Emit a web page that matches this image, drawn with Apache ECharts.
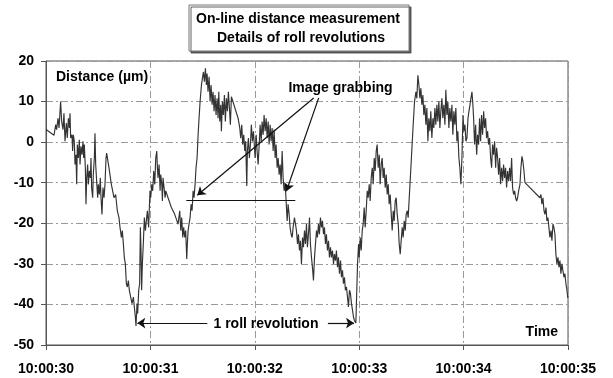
<!DOCTYPE html>
<html>
<head>
<meta charset="utf-8">
<script src="https://cdn.jsdelivr.net/npm/echarts@6/dist/echarts.min.js"></script>
<style>
  html, body { margin: 0; padding: 0; background: #fff; }
  #chart { width: 613px; height: 378px; }
</style>
</head>
<body>
<div id="chart"></div>
<script>
// X tick labels (one per second)
const tickLabels = ['10:00:30', '10:00:31', '10:00:32', '10:00:33', '10:00:34', '10:00:35'];

// time in ms after 10:00:30
const timeMs = [
  0,77,93,102,115,125,140,150,163,172, 182,195,204,214,224,230,236,249,255,262,
  271,278,287,294,300,310,319,326,335,345, 354,361,367,377,383,390,399,406,415,425,
  431,437,447,453,463,469,476,485,495,501, 511,520,527,536,546,556,565,575,581,603,
  626,651,667,683,699,709,722,731,741,750, 760,770,779,789,798,811,824,837,846,856,
  862,872,878,888,897,904,910,916,923,932, 942,952,961,971,983,996,
  1003,1013,1022,1032,1042,1051,1061,1067,1073,1083, 1093,1099,1109,1115,1121,1131,1141,1147,1169,1201,
  1233,1265,1281,1291,1300,1310,1319,1329,1338,1348, 1354,1361,1370,1380,1390,1399,1409,1418,1428,1437,
  1447,1457,1466,1476,1489,1498,1508,1517,1527,1536, 1543,1552,1562,1572,1581,1591,1600,1610,1619,1629,
  1639,1648,1655,1664,1674,1680,1690,1699,1709,1718, 1728,1738,1747,1757,1766,1776,1840,1856,1865,1875,
  1884,1894,1904,1913,1923,1929,1939,1948,1958,1967, 1977,1987,
  2003,2013,2022,2032,2042,2051,2061,2070,2080,2089, 2099,2109,2118,2128,2137,2147,2156,2166,2176,2185,
  2195,2204,2214,2224,2233,2243,2252,2262,2271,2281, 2291,2300,2310,2319,2329,2338,2348,2358,2367,2380,
  2399,2409,2418,2428,2437,2447,2457,2466,2476,2485, 2495,2504,2514,2524,2533,2543,2552,2562,2572,2581,
  2591,2600,2610,2619,2629,2639,2648,2658,2667,2677, 2686,2696,2706,2715,2725,2734,2744,2754,2763,2773,
  2782,2792,2801,2811,2821,2830,2840,2849,2859,2868, 2878,2888,2897,2907,2916,2926,2936,2945,2955,2968,
  2984,2994,3000,3010,3019,3029,3038,3048,3057,3067, 3077,3086,3096,3105,3115,3125,3134,3144,3153,3163,
  3172,3182,3192,3201,3211,3220,3230,3239,3249,3259, 3268,3278,3287,3297,3307,3316,3326,3335,3345,3354,
  3364,3374,3383,3393,3402,3412,3421,3431,3441,3450, 3460,3469,3495,3517,3530,3543,3552,3562,3572,3581,
  3591,3600,3610,3619,3629,3639,3648,3658,3667,3677, 3686,3696,3706,3715,3725,3734,3744,3753,3763,3773,
  3782,3792,3801,3811,3821,3830,3840,3849,3859,3868, 3878,3888,3897,3907,3916,3926,3936,3945,3955,3964,
  3974,3984,
  3994,4003,4013,4022,4032,4042,4051,4061,4070,4080, 4089,4096,4105,4115,4125,4134,4144,4153,4163,4172,
  4182,4192,4201,4211,4220,4230,4239,4249,4259,4268, 4278,4287,4297,4307,4316,4326,4335,4345,4354,4364,
  4374,4383,4393,4402,4412,4421,4431,4441,4450,4460, 4469,4479,4489,4498,4508,4517,4527,4540,4549,4559,
  4568,4578,4588,4731,4741,4750,4760,4770,4779,4789, 4798,4808,4817,4827,4837,4846,4856,4865,4875,4884,
  4894,4904,4913,4923,4932,4942,4951,4961,4970,4980, 4990,4998
];

// distance in micrometres
const distanceUm = [
  3.1,1.7,4.3,3.1,5.9,3.5,10.0,5.1,3.1,7.1, 0.2,4.7,1.0,5.9,3.5,7.1,1.0,1.8,-2.2,1.8,
  0.2,-5.5,-3.1,-10.4,-0.6,-3.9,0.6,-5.5,-1.0,-3.1, 0.2,-3.9,-0.6,-6.3,-15.3,-8.8,-5.5,-10.4,-7.1,-8.8,
  -3.9,-11.2,-13.7,-8.0,-3.9,2.2,-5.5,-9.6,-13.7,-10.4, -12.9,-8.8,-13.7,-17.8,-11.2,-13.7,-10.4,-3.9,-2.7,-6.3,
  -10.4,-13.7,-12.9,-16.9,-18.6,-21.0,-23.5,-21.8,-25.1,-28.4, -30.0,-34.9,-35.7,-34.1,-36.5,-38.2,-39.8,-38.2,-40.6,-43.1,
  -45.3,-39.8,-42.2,-36.5,-34.9,-21.0,-26.7,-36.5,-30.0,-25.1, -18.6,-21.8,-19.4,-16.9,-21.0,-12.0,
  -13.7,-10.4,-12.0,-7.1,-10.4,-3.9,-2.2,-6.3,-8.8,-5.5, -12.0,-8.0,-10.4,-14.5,-8.8,-11.2,-13.7,-12.0,-13.7,-16.1,
  -17.8,-20.2,-16.9,-21.8,-18.6,-23.5,-21.0,-23.5,-21.8,-28.8, -25.1,-21.8,-20.2,-18.6,-15.3,-16.9,-12.0,-13.7,-10.4,-6.3,
  -3.9,1.8,5.9,10.0,14.1,15.7,17.3,14.9,18.2,14.1, 16.9,12.4,16.1,10.0,14.1,9.2,12.4,7.6,11.6,6.7,
  10.8,5.9,12.4,5.1,9.2,2.7,10.0,6.7,11.6,5.1, 10.8,7.6,12.4,8.4,4.3,11.2,5.9,3.5,1.0,4.3,
  -0.6,1.8,-2.2,0.2,-10.8,-2.2,1.0,-3.9,-0.6,4.3, 0.2,2.7,
  -3.9,1.8,-2.2,-5.5,-0.6,4.3,0.2,5.1,1.8,6.7, 2.7,5.9,1.0,5.1,-0.6,4.3,0.2,3.5,-2.2,3.1,
  -3.9,-0.6,-6.3,-3.9,-8.0,-5.5,-10.4,-2.2,-8.8,-12.0, -10.4,-14.5,-19.4,-15.3,-17.8,-21.0,-22.7,-23.5,-21.0,-18.6,
  -21.8,-25.1,-22.7,-26.7,-24.3,-30.0,-23.5,-25.9,-21.8,-25.1, -20.2,-25.9,-22.7,-18.6,-25.1,-28.4,-30.8,-34.1,-28.4,-25.1,
  -21.8,-23.5,-20.2,-22.7,-18.6,-21.0,-19.4,-22.7,-21.0,-25.1, -22.7,-26.7,-24.3,-28.4,-25.9,-28.4,-26.7,-30.0,-27.6,-29.2,
  -26.7,-30.8,-28.4,-32.4,-29.2,-33.3,-31.6,-34.9,-33.3,-36.5, -35.7,-38.2,-40.6,-36.5,-37.3,-39.8,-41.4,-43.1,-44.0,-44.6,
  -30.0,-25.1,-28.4,-23.5,-26.7,-21.8,-20.2,-16.1,-21.0,-16.9, -12.0,-13.7,-10.4,-14.5,-8.8,-6.3,-10.4,-3.9,-7.1,-2.2,
  -0.6,-6.3,-3.1,-10.4,-5.5,-3.9,-8.8,-6.3,-11.2,-8.0, -12.9,-10.4,-15.3,-12.9,-17.8,-21.8,-16.9,-19.4,-14.5,-13.7,
  -17.8,-20.2,-25.1,-27.6,-24.3,-21.0,-23.5,-19.4,-21.8,-17.8, -16.9,-18.6,-6.3,4.3,10.0,12.4,10.8,16.5,14.1,10.8,
  13.3,9.2,11.6,6.7,9.2,4.3,8.4,0.2,5.9,2.7, 7.6,1.0,5.9,3.5,8.4,4.3,9.2,5.1,10.0,3.5,
  7.6,10.8,5.9,9.2,4.3,12.9,6.7,10.0,3.5,8.4, 5.1,9.2,1.8,7.6,4.3,8.4,0.2,2.7,-3.9,-6.3,
  -10.4,-3.9,
  6.7,2.7,4.3,0.2,1.0,5.9,7.6,9.2,10.8,12.4, 9.2,5.9,-0.6,4.3,-3.1,1.8,-0.6,5.9,0.2,6.7,
  1.8,7.6,3.5,5.9,1.0,2.7,-0.6,1.0,-3.9,-6.3, -0.6,-3.1,0.2,-6.3,-1.4,-3.9,-8.0,-3.9,-10.4,-6.3,
  -9.6,-5.5,-8.8,-6.3,-11.2,-7.1,-9.6,-6.3,-9.6,-3.9, -11.2,-12.9,-12.0,-13.7,-14.5,-13.7,-12.0,-10.4,-6.3,-3.5,
  -4.7,-7.1,-10.0,-13.7,-12.9,-15.3,-13.7,-16.9,-17.8,-16.1, -19.4,-18.6,-21.0,-23.5,-21.8,-24.3,-20.2,-21.0,-22.7,-27.6,
  -30.0,-28.4,-30.8,-29.2,-32.4,-30.0,-31.6,-33.3,-32.4,-34.9, -36.5,-38.4
];

// Annotation anchors (data coordinates: ms, µm)
const grabLineX = [1344, 2388];
const grabLineY = -14.2;
const grabArrow1 = [[2564, 10.9], [1449, -13.1]];
const grabArrow2 = [[2612, 10.9], [2302, -12.1]];
const grabText = [2821, 13.3];
const revY = -44.6;
const revArrowLeft = [[1545, revY], [875, revY]];
const revArrowRight = [[2700, revY], [2950, revY]];
const revText = [2107, -44.8];

const FONT = '"Liberation Sans", Arial, sans-serif';

const chart = echarts.init(document.getElementById('chart'), null, { renderer: 'canvas' });

const seriesData = timeMs.map((t, i) => [t, distanceUm[i]]);

const gridLine = { show: true, lineStyle: { color: '#9a9a9a', width: 1, type: [7, 3, 2, 3] } };

chart.setOption({
  animation: false,
  backgroundColor: '#fff',
  grid: { left: 46, right: 45, top: 61, bottom: 33, show: true, borderColor: '#555', borderWidth: 1, backgroundColor: 'transparent' },
  xAxis: {
    type: 'value', min: 0, max: 5000, interval: 1000,
    axisLine: { show: true, onZero: false, lineStyle: { color: '#555', width: 1 } },
    axisTick: { show: true, length: 5, lineStyle: { color: '#555' } },
    axisLabel: { margin: 17, color: '#000', fontWeight: 'bold', fontSize: 14, fontFamily: FONT,
      formatter: v => tickLabels[Math.round(v / 1000)] },
    splitLine: gridLine
  },
  yAxis: {
    type: 'value', min: -50, max: 20, interval: 10,
    axisLine: { show: true, onZero: false, lineStyle: { color: '#555', width: 1 } },
    axisTick: { show: true, length: 5, lineStyle: { color: '#555' } },
    axisLabel: { margin: 12, color: '#000', fontWeight: 'bold', fontSize: 14, fontFamily: FONT },
    splitLine: gridLine
  },
  graphic: [
    { type: 'rect', shape: { x: 189, y: 5, width: 220, height: 46 }, z: 100,
      style: { fill: '#fff', stroke: '#777', lineWidth: 1, shadowColor: 'rgba(60,60,60,0.8)', shadowOffsetX: 2, shadowOffsetY: 2, shadowBlur: 0 } },
    { type: 'text', x: 298, y: 19, z: 101,
      style: { text: 'On-line distance measurement', font: 'bold 14px ' + FONT, fill: '#000', textAlign: 'center', textVerticalAlign: 'middle', align: 'center', verticalAlign: 'middle' } },
    { type: 'text', x: 301, y: 38, z: 101,
      style: { text: 'Details of roll revolutions', font: 'bold 14px ' + FONT, fill: '#000', textAlign: 'center', textVerticalAlign: 'middle', align: 'center', verticalAlign: 'middle' } },
    { type: 'text', x: 56, y: 77, z: 101,
      style: { text: 'Distance (µm)', font: 'bold 14px ' + FONT, fill: '#000', textAlign: 'left', textVerticalAlign: 'middle', align: 'left', verticalAlign: 'middle' } },
    { type: 'text', x: 558, y: 332, z: 101,
      style: { text: 'Time', font: 'bold 14px ' + FONT, fill: '#000', textAlign: 'right', textVerticalAlign: 'middle', align: 'right', verticalAlign: 'middle' } }
  ],
  series: [{
    type: 'line',
    data: seriesData,
    showSymbol: false,
    symbol: 'none',
    lineStyle: { color: '#333', width: 1.15 },
    silent: true,
    markLine: {
      silent: true,
      symbol: ['none', 'arrow'],
      symbolSize: 8,
      label: { show: false },
      lineStyle: { color: '#111', width: 1.2, type: 'solid' },
      emphasis: { disabled: true },
      data: [
        [{ coord: [grabLineX[0], grabLineY], symbol: 'none' }, { coord: [grabLineX[1], grabLineY], symbol: 'none' }],
        [{ coord: grabArrow1[0] }, { coord: grabArrow1[1] }],
        [{ coord: grabArrow2[0] }, { coord: grabArrow2[1] }],
        [{ coord: revArrowLeft[0] }, { coord: revArrowLeft[1] }],
        [{ coord: revArrowRight[0] }, { coord: revArrowRight[1] }]
      ]
    },
    markPoint: {
      silent: true,
      symbol: 'circle',
      symbolSize: 0,
      itemStyle: { color: 'transparent' },
      label: { show: true, position: 'inside', color: '#000', fontWeight: 'bold', fontSize: 14, fontFamily: FONT },
      data: [
        { coord: grabText, label: { formatter: 'Image grabbing' } },
        { coord: revText, label: { formatter: '1 roll revolution' } }
      ]
    }
  }]
});
</script>
</body>
</html>
